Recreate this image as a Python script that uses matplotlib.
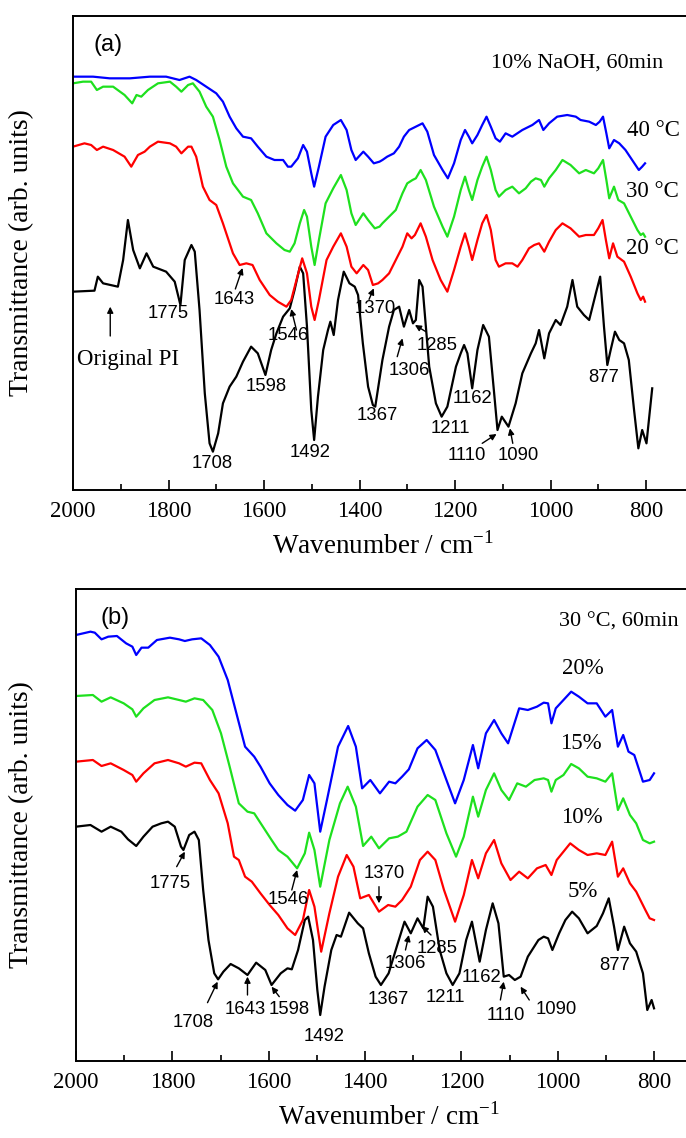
import matplotlib
matplotlib.use("Agg")
import matplotlib.pyplot as plt

plt.rcParams['font.family'] = ['Liberation Serif', 'DejaVu Serif']
plt.rcParams['mathtext.fontset'] = 'custom'
plt.rcParams['mathtext.rm'] = 'Liberation Serif'

# ---------------- panel (a): 10% NaOH, 60 min, temperature series ----------------
a_pi_wn = [2000, 1955, 1948, 1937, 1906, 1895, 1885, 1874, 1860, 1846, 1832, 1805, 1787, 1775, 1766,
           1752, 1745, 1735, 1724, 1714, 1707, 1696, 1686, 1672, 1658, 1644, 1627, 1613, 1597, 1585,
           1574, 1560, 1546, 1536, 1525, 1518, 1510, 1501, 1495, 1487, 1476, 1466, 1461, 1454, 1445,
           1433, 1421, 1410, 1403, 1393, 1382, 1372, 1367, 1352, 1338, 1328, 1317, 1307, 1296, 1288,
           1282, 1275, 1268, 1261, 1254, 1240, 1228, 1216, 1198, 1188, 1181, 1174, 1164, 1153, 1141,
           1129, 1118, 1111, 1102, 1088, 1073, 1059, 1041, 1031, 1024, 1013, 1003, 989, 979, 965,
           954, 944, 930, 919, 905, 896, 888, 881, 874, 865, 856, 846, 836, 825, 816,
           808, 799, 787]
a_pi_t = [59.5, 59.8, 64, 62, 61, 69, 81, 72, 66.5, 71, 67, 65.5, 62.5, 55.5, 69,
          73.5, 71.5, 54, 29, 14, 11.5, 17, 26, 31, 34, 38.5, 43, 41, 34.5, 42,
          47, 52, 54.5, 60, 67, 65, 49, 24, 15, 28, 42, 48, 50.5, 46.5, 57,
          65.5, 62, 61, 58.5, 44, 31, 25.5, 25, 39, 49, 54, 55, 49, 54, 50,
          51, 63, 61, 49, 37, 26, 22, 25, 37, 41, 43.5, 41, 30.5, 42, 49.5,
          46, 29, 18, 22, 19, 26, 35, 41, 44, 48, 39.5, 47, 51, 49.5, 55,
          63, 55, 52.5, 51, 59, 64, 49, 37.5, 42, 47.5, 45, 44, 39, 24, 12.5,
          18, 14, 30.5]

a_20_wn = [2000, 1976, 1962, 1950, 1937, 1916, 1892, 1878, 1864, 1850, 1839, 1822, 1797, 1784, 1773,
           1759, 1752, 1742, 1728, 1714, 1700, 1686, 1665, 1651, 1637, 1624, 1609, 1588, 1571, 1553,
           1543, 1532, 1520, 1510, 1501, 1494, 1485, 1469, 1455, 1439, 1427, 1417, 1406, 1392, 1382,
           1372, 1361, 1352, 1338, 1324, 1310, 1300, 1291, 1284, 1272, 1261, 1247, 1230, 1216, 1202,
           1188, 1179, 1171, 1164, 1153, 1143, 1134, 1125, 1115, 1108, 1094, 1080, 1069, 1059, 1045,
           1034, 1024, 1013, 1003, 989, 975, 958, 940, 926, 909, 900, 891, 884, 877, 869,
           860, 846, 832, 818, 811, 806, 802]
a_20_t = [103, 104, 103.5, 102, 103, 102, 100, 97, 100.5, 101.5, 103, 104.5, 104, 103, 101,
          103, 103, 100, 91, 87, 85.5, 80, 71, 67.5, 68, 67.5, 63, 58.5, 56.5, 55,
          57, 63, 69.5, 65, 55, 51, 57, 69, 73, 77, 73, 67, 65, 67.5, 66,
          61.5, 62, 63, 65, 69, 73, 77, 75.5, 76.5, 80, 76, 69, 63, 59.5, 66,
          73, 77, 73, 69, 75, 80, 82.5, 78, 69, 67, 68, 68, 67, 69, 72.5,
          73.5, 74, 71.5, 74.5, 78, 80, 78.5, 76, 76.5, 76.5, 78.5, 81, 75, 69.5, 74,
          70, 68.5, 64, 59, 57, 58, 56.5]

a_30_wn = [2000, 1979, 1962, 1950, 1937, 1916, 1892, 1876, 1867, 1857, 1843, 1822, 1797, 1784, 1773,
           1759, 1749, 1735, 1721, 1707, 1693, 1679, 1665, 1644, 1627, 1613, 1595, 1574, 1557, 1546,
           1536, 1525, 1516, 1510, 1501, 1494, 1485, 1471, 1455, 1439, 1427, 1417, 1408, 1392, 1382,
           1368, 1358, 1352, 1338, 1324, 1310, 1300, 1289, 1282, 1272, 1261, 1244, 1226, 1216, 1202,
           1188, 1179, 1171, 1164, 1153, 1143, 1134, 1125, 1115, 1108, 1094, 1080, 1066, 1052, 1041,
           1031, 1020, 1013, 1003, 989, 975, 958, 940, 926, 909, 900, 890, 883, 877, 867,
           858, 846, 832, 818, 811, 806, 802]
a_30_t = [122, 122.5, 122.5, 120, 121, 121, 118.5, 116, 118.5, 118, 120, 122, 122.5, 121, 119.5,
          121.5, 122, 119.5, 115, 112, 105, 97, 92, 88, 87, 83, 77, 74, 72, 71.5,
          74, 80, 84, 82, 73, 67.5, 75, 86, 90.5, 94.5, 90, 83, 79.5, 83, 81,
          78.5, 79, 80, 82, 84, 89, 92, 93, 93.5, 96, 93, 85, 79, 76, 82,
          90, 94, 90, 87, 93, 97, 100, 96, 90, 88, 90, 91, 89, 90.5, 92.5,
          93.5, 93, 91, 93.5, 96, 99, 97.5, 95, 96, 95, 96.5, 99, 93, 87.5, 91,
          87, 86, 82, 78, 76.5, 77, 76]

a_40_wn = [2000, 1979, 1958, 1923, 1881, 1839, 1805, 1777, 1756, 1742, 1721, 1700, 1686, 1672, 1658,
           1644, 1627, 1613, 1595, 1578, 1560, 1550, 1543, 1529, 1518, 1510, 1501, 1495, 1485, 1471,
           1455, 1439, 1427, 1417, 1408, 1392, 1382, 1370, 1358, 1352, 1342, 1328, 1317, 1307, 1296,
           1282, 1268, 1258, 1244, 1226, 1215, 1202, 1188, 1179, 1171, 1164, 1153, 1143, 1134, 1125,
           1115, 1106, 1094, 1080, 1059, 1038, 1024, 1015, 1003, 986, 965, 947, 937, 919, 905,
           897, 890, 883, 877, 867, 856, 843, 829, 815, 808, 802]
a_40_t = [124, 124, 124, 123.5, 123.5, 124, 124, 123, 124, 123, 121, 119, 116.5, 112, 108.5,
          106, 105.5, 103, 100, 99, 99, 97, 97, 99.5, 103.5, 101.5, 95, 91, 97, 106,
          109.5, 111, 108, 102, 99, 101.5, 100, 98, 98.5, 99, 100, 101, 103, 106, 108,
          109, 110, 107.5, 100.5, 96, 93.5, 98, 105, 108, 106, 104, 106.5, 109.5, 112, 109,
          105.5, 104.5, 107, 106, 108, 109.5, 111, 108, 110, 112, 112.5, 112, 111, 110.5, 109.5,
          110.5, 112, 107, 102.5, 105, 104, 102, 99, 96, 97, 98]

# ---------------- panel (b): 30 C, 60 min, NaOH concentration series ----------------
b_05_wn = [2000, 1970, 1947, 1928, 1906, 1892, 1875, 1860, 1841, 1823, 1809, 1795, 1782, 1777, 1765,
           1754, 1745, 1736, 1725, 1713, 1705, 1694, 1679, 1662, 1644, 1626, 1607, 1594, 1575, 1561,
           1552, 1539, 1525, 1518, 1508, 1499, 1493, 1484, 1470, 1459, 1450, 1433, 1415, 1404, 1392,
           1378, 1367, 1351, 1332, 1318, 1305, 1291, 1279, 1270, 1259, 1245, 1231, 1218, 1204, 1190,
           1178, 1162, 1149, 1135, 1123, 1112, 1101, 1089, 1077, 1062, 1040, 1029, 1020, 1011, 997,
           984, 970, 956, 938, 919, 906, 894, 883, 875, 862, 850, 837, 823, 814, 805, 800]
b_05_t = [70.3, 70.8, 68.8, 70.3, 68.8, 66.5, 64.5, 67.3, 70.3, 71.3, 71.8, 70.3, 64.3, 63.3, 67.8,
          68.8, 66.3, 51.3, 36.3, 26.3, 24.5, 26.8, 29.1, 27.8, 25.8, 29.5, 27.3, 22.8, 26.3, 27.8,
          27.5, 33.3, 42.3, 43.3, 36.3, 21.3, 13.8, 22.3, 33.3, 37.8, 37.3, 44.5, 41.3, 39.8, 32.3,
          25.3, 22.8, 26.3, 35.3, 41.8, 38.3, 42.8, 39.8, 49.3, 46.3, 33.3, 26.3, 22.8, 26.3, 36.3,
          41.8, 29.8, 39.3, 47.3, 41.3, 25.3, 25.8, 24.3, 25.3, 31.3, 36.3, 37.3, 36.8, 33.3, 38.3,
          42.3, 44.8, 42.8, 38.3, 40.5, 44.3, 48.8, 40.3, 33.3, 40.3, 35.3, 32.8, 26.3, 15.3, 18.3, 15.8]

b_10_wn = [2000, 1965, 1947, 1928, 1901, 1883, 1875, 1860, 1837, 1809, 1786, 1772, 1754, 1740, 1722,
           1704, 1685, 1672, 1662, 1649, 1635, 1617, 1598, 1580, 1561, 1545, 1529, 1516, 1505, 1491,
           1474, 1456, 1438, 1424, 1410, 1392, 1371, 1352, 1337, 1323, 1305, 1286, 1270, 1254, 1236,
           1213, 1195, 1178, 1165, 1149, 1132, 1117, 1098, 1080, 1062, 1043, 1025, 1013, 1002, 974,
           956, 938, 919, 901, 887, 875, 864, 850, 837, 818, 809, 800]
b_10_t = [89.8, 90.3, 88.5, 89.3, 87.3, 85.8, 83.8, 86.3, 89.3, 90.3, 89.3, 88.3, 89.5, 89.3, 84.3,
          80.3, 71.3, 61.3, 60.3, 55.3, 53.8, 50.3, 46.8, 43.8, 39.8, 37.8, 42.3, 51.3, 46.3, 32.8,
          44.3, 55.3, 61.8, 58.3, 48.8, 49.8, 44.8, 46.8, 46.3, 48.3, 52.3, 60.3, 62.8, 60.3, 51.3,
          41.8, 49.8, 60.3, 54.8, 62.3, 66.3, 59.3, 54.3, 56.8, 54.8, 57.8, 58.8, 55.8, 60.3, 65.3,
          63.3, 61.8, 62.3, 61.8, 65.8, 55.3, 57.8, 53.3, 50.8, 45.3, 42.8, 42.3]

b_15_wn = [2000, 1965, 1947, 1928, 1901, 1883, 1875, 1860, 1837, 1809, 1786, 1772, 1754, 1736, 1717,
           1699, 1681, 1662, 1644, 1630, 1612, 1594, 1580, 1561, 1541, 1525, 1516, 1505, 1493, 1474,
           1452, 1436, 1419, 1404, 1387, 1371, 1350, 1332, 1314, 1291, 1270, 1254, 1231, 1211, 1195,
           1176, 1165, 1149, 1132, 1117, 1101, 1084, 1066, 1048, 1029, 1020, 1013, 1004, 988, 972,
           956, 938, 919, 901, 887, 875, 864, 850, 837, 823, 809, 800]
b_15_t = [109.5, 109.8, 107.8, 109.1, 107.3, 105.5, 103.3, 105.8, 108.3, 109.1, 108.3, 107.8, 108.8, 108.3, 105.3,
          98.3, 88.3, 77.3, 74.8, 74.3, 70.3, 66.3, 63.3, 61.3, 57.8, 62.3, 68.5, 63.3, 52.3, 66.3,
          77.3, 82.3, 76.3, 64.5, 67.3, 63.8, 66.8, 67.3, 68.8, 76.3, 79.8, 78.3, 68.3, 61.3, 67.3,
          79.3, 73.3, 81.3, 86.3, 81.3, 78.3, 83.3, 82.3, 84.3, 84.8, 84.3, 80.8, 84.3, 85.8, 89.1,
          87.8, 85.3, 84.8, 83.8, 86.3, 75.3, 78.8, 73.8, 71.3, 66.3, 65.3, 65.8]

b_20_wn = [2000, 1970, 1961, 1947, 1933, 1915, 1896, 1883, 1875, 1864, 1850, 1832, 1805, 1786, 1774,
           1759, 1740, 1722, 1704, 1685, 1667, 1649, 1630, 1617, 1598, 1580, 1561, 1545, 1529, 1516,
           1505, 1493, 1479, 1456, 1435, 1419, 1406, 1389, 1369, 1350, 1337, 1323, 1309, 1291, 1272,
           1254, 1231, 1213, 1195, 1176, 1165, 1149, 1132, 1117, 1103, 1080, 1062, 1043, 1029, 1020,
           1013, 1004, 988, 972, 956, 938, 919, 901, 887, 875, 864, 853, 841, 823, 809, 800]
b_20_t = [127.8, 128.8, 128.5, 126.5, 127.3, 127.5, 125.3, 124.3, 121.8, 124, 124, 126.3, 127, 126.5, 126,
          126.5, 126.8, 124.8, 121.3, 114.3, 104.3, 94.3, 91.3, 88.3, 83.3, 79.8, 76.8, 75.1, 78.3, 85.8,
          83.3, 68.8, 78.3, 94.3, 100.5, 94.3, 81.8, 84.3, 80.3, 83.8, 83.3, 85.3, 87.5, 93.8, 96.3,
          93.3, 84.3, 77.3, 84.3, 94.8, 87.8, 98.3, 102.3, 98.3, 95.3, 105.8, 105.3, 106.3, 107.5, 107.3,
          101.3, 105.8, 108.3, 110.8, 109.3, 107.3, 107.3, 103.3, 105.3, 94.3, 97.8, 92.8, 91.8, 83.8, 84.3, 86.3]

curve_colors = ['black', '#ff0000', '#1ee01e', '#0000ff']
a_curves = [(a_pi_wn, a_pi_t), (a_20_wn, a_20_t), (a_30_wn, a_30_t), (a_40_wn, a_40_t)]
b_curves = [(b_05_wn, b_05_t), (b_10_wn, b_10_t), (b_15_wn, b_15_t), (b_20_wn, b_20_t)]

# peak labels: (text, label position, arrow tail, arrow tip)
a_peaks = [('1775', (1800, 52.8), None, None), ('1643', (1663, 57.3), (1660, 60.3), (1645, 66.6)),
           ('1546', (1550, 46.2), (1532, 48), (1543, 54.3)), ('1598', (1596, 31), None, None),
           ('1708', (1708, 7.8), None, None), ('1492', (1504, 11.2), None, None),
           ('1370', (1366, 54.4), (1380, 57.2), (1370, 60.5)), ('1306', (1296, 35.8), (1321, 40), (1310, 45.5)),
           ('1285', (1237, 43.5), (1261, 47.5), (1284, 49.5)), ('1367', (1362, 22.4), None, None),
           ('1211', (1209, 18.5), None, None), ('1162', (1164, 27.5), None, None),
           ('1110', (1176, 10.2), (1143, 14), (1113, 16.8)), ('1090', (1067, 10.2), (1079, 14), (1085, 18.5)),
           ('877', (888, 33.8), None, None)]
b_peaks = [('1775', (1805, 53.3), (1791, 58.3), (1774, 62.8)), ('1546', (1560, 48.3), (1552, 51.3), (1541, 57.3)),
           ('1370', (1360, 56.3), (1371, 52.3), (1371, 47.3)), ('1306', (1316, 29.1), (1316, 33.3), (1309, 37.8)),
           ('1285', (1250, 33.8), (1263, 37.8), (1282, 40.5)), ('1708', (1757, 11.5), (1727, 17.5), (1706, 23.8)),
           ('1643', (1649, 15.3), (1644, 19.8), (1644, 25.3)), ('1598', (1557, 15.3), (1578, 19.3), (1594, 22.3)),
           ('1492', (1486, 7.3), None, None), ('1367', (1352, 18.3), None, None),
           ('1211', (1233, 19.1), None, None), ('1162', (1158, 25.1), None, None),
           ('1110', (1107, 13.8), (1119, 18.3), (1112, 23.8)), ('1090', (1004, 15.5), (1059, 18.3), (1077, 22.3)),
           ('877', (881, 28.5), None, None)]

a_names = ['20 \u00b0C', '30 \u00b0C', '40 \u00b0C']
a_name_pos = [(842, 72.6), (842, 89.5), (840, 108)]
b_names = ['5%', '10%', '15%', '20%']
b_name_pos = [(949, 50.8), (949, 73.1), (951, 95.3), (947, 117.8)]

W, H = 686, 1138
fig = plt.figure(figsize=(W / 100, H / 100), dpi=100)
ax_a = fig.add_axes([73 / W, 1 - 490 / H, 620.75 / W, 474 / H])
ax_b = fig.add_axes([76 / W, 1 - 1061 / H, 626.2 / W, 472 / H])

arrow_kw = dict(arrowstyle='-|>', color='black', lw=1.0, mutation_scale=9, shrinkA=0, shrinkB=0)


def style_axis(ax, ytop):
    ax.set_xlim(2000, 700)
    ax.set_ylim(0, ytop)
    ax.set_xticks([2000, 1800, 1600, 1400, 1200, 1000, 800])
    ax.set_xticks(range(1900, 699, -200), minor=True)
    ax.tick_params(axis='x', which='major', direction='in', length=7, width=1.2, labelsize=16.5, pad=8)
    ax.tick_params(axis='x', which='minor', direction='in', length=4, width=1.2)
    ax.tick_params(axis='x', top=False)
    ax.set_yticks([])
    for s in ax.spines.values():
        s.set_linewidth(1.4)
    ax.set_xlabel('Wavenumber / cm$^{-1}$', fontsize=19.5, labelpad=7)


def draw_peaks(ax, peaks):
    for txt, pos, tail, tip in peaks:
        ax.text(pos[0], pos[1], txt, fontsize=13.3, family=['Liberation Sans'], ha='center', va='center')
        if tip is not None:
            ax.annotate('', xy=tip, xytext=tail, arrowprops=arrow_kw)


# panel (a)
for (wn, t), c in zip(a_curves, curve_colors):
    ax_a.plot(wn, t, color=c, lw=1.6, solid_joinstyle='round')
style_axis(ax_a, 142.2)
draw_peaks(ax_a, a_peaks)
for name, pos in zip(a_names, a_name_pos):
    ax_a.text(pos[0], pos[1], name, fontsize=16.5, ha='left', va='center')
ax_a.text(1927, 133.5, '(a)', fontsize=17, family=['Liberation Sans'], ha='center', va='center')
ax_a.text(945, 128, '10% NaOH, 60min', fontsize=16, ha='center', va='center')
ax_a.text(1885, 39.2, 'Original PI', fontsize=16.5, ha='center', va='center')
ax_a.annotate('', xy=(1922, 55), xytext=(1922, 46.2), arrowprops=arrow_kw)

# panel (b)
for (wn, t), c in zip(b_curves, curve_colors):
    ax_b.plot(wn, t, color=c, lw=1.6, solid_joinstyle='round')
style_axis(ax_b, 141.6)
draw_peaks(ax_b, b_peaks)
for name, pos in zip(b_names, b_name_pos):
    ax_b.text(pos[0], pos[1], name, fontsize=16.5, ha='center', va='center')
ax_b.text(1919, 132.8, '(b)', fontsize=17, family=['Liberation Sans'], ha='center', va='center')
ax_b.text(873, 131.8, '30 \u00b0C, 60min', fontsize=16, ha='center', va='center')

fig.text(22 / W, 1 - 253 / H, 'Transmittance (arb. units)', rotation=90, fontsize=20, ha='center', va='center')
fig.text(22 / W, 1 - 825 / H, 'Transmittance (arb. units)', rotation=90, fontsize=20, ha='center', va='center')

fig.savefig('out.png', dpi=100)
